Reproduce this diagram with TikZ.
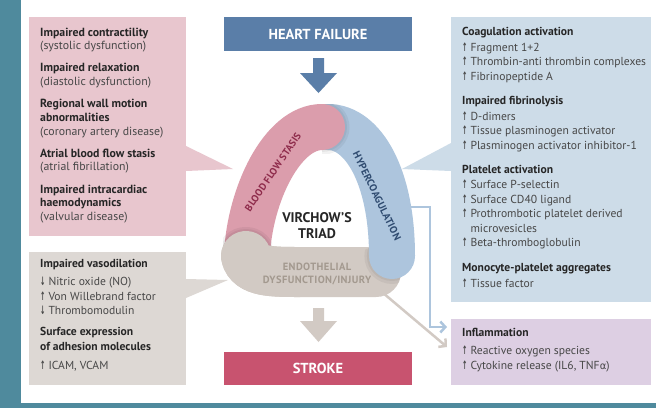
\documentclass[tikz,border=0pt]{standalone}
\usepackage{fontspec}
\usepackage{graphicx}
\setmainfont{PT Sans}
\newfontfamily\symf{DejaVu Sans}
\usetikzlibrary{arrows.meta}
\definecolor{tealbg}{HTML}{4F8A9D}
\definecolor{pinkbox}{HTML}{E8C6CE}
\definecolor{greybox}{HTML}{DDD8D4}
\definecolor{bluebox}{HTML}{CDDCE8}
\definecolor{purplebox}{HTML}{DDCFE3}
\definecolor{hfblue}{HTML}{5A7EA8}
\definecolor{strokered}{HTML}{C8536F}
\definecolor{pinkarm}{HTML}{DB9DAC}
\definecolor{bluearm}{HTML}{ADC5DD}
\definecolor{greyarm}{HTML}{D2CAC4}
\definecolor{pinktxt}{HTML}{8E2B4B}
\definecolor{bluetxt}{HTML}{2F4B70}
\definecolor{greytxt}{HTML}{A3998F}
\definecolor{headc}{HTML}{262626}
\definecolor{itemc}{HTML}{474747}
\newcommand\uarr{\scalebox{0.55}[1]{\symf\bfseries ↑}\hspace{3pt}}
\newcommand\darr{\scalebox{0.55}[1]{\symf\bfseries ↓}\hspace{3pt}}
\newcommand\ind{\hphantom{\uarr}}
\newcommand\hd[1]{\textbf{\color{headc}#1}}
\newcommand\galpha{{\symf\fontsize{10}{10}\selectfont α}}
\begin{document}
\begin{tikzpicture}[x=1pt,y=-1pt,
  panel/.style={draw=none, inner sep=0pt},
  txt/.style={anchor=north west, inner sep=0pt, align=left, text=itemc, font=\fontsize{11.6}{14.5}\selectfont},
  arm/.style={line width=46pt, line cap=round},
  shade1/.style={line cap=round, black, opacity=0.05},
  conn/.style={line width=2.5pt, -{Straight Barb[length=5pt,width=11pt]}},
  endbox/.style={inner sep=0pt, minimum width=188pt, text=white, font=\bfseries\fontsize{14.5}{16}\selectfont}]
\useasboundingbox (0,0) rectangle (656,408);
\fill[tealbg] (0,0) rectangle (656,408);
\fill[white] (21,0) rectangle (656,403);

% side panels
\node[panel, fill=pinkbox, minimum width=157pt, minimum height=219pt] (pbox) at (107.5,126.5) {};
\node[panel, fill=greybox, minimum width=157pt, minimum height=133pt] (gbox) at (107.5,318.5) {};
\node[panel, fill=bluebox, minimum width=200pt, minimum height=285pt] (bbox) at (551,159.5) {};
\node[panel, fill=purplebox, minimum width=200pt, minimum height=66pt] (infl) at (551,352) {};

% callout wedges
\fill[pinkbox] (186,146) -- (233,169) -- (186,171) -- cycle;
\fill[greybox] (186,279) -- (228,280) -- (186,298) -- cycle;
\fill[bluebox] (451,143) -- (402,169) -- (451,171) -- cycle;

% end boxes
\node[endbox, fill=hfblue, minimum height=34pt] (hf) at (318,34) {HEART FAILURE};
\node[endbox, fill=strokered, minimum height=33pt] (st) at (318,368.5) {STROKE};

% block arrows
\fill[hfblue] (313,58) -- (324,58) -- (324,73) -- (337,73) -- (318.5,93) -- (300,73) -- (313,73) -- cycle;
\fill[greyarm] (313,308) -- (324,308) -- (324,321) -- (337,321) -- (318.5,342) -- (300,321) -- (313,321) -- cycle;

% connectors
\coordinate (c1s) at (400,207);
\coordinate (c1b) at (430,207);
\coordinate (c1c) at (430,327);
\coordinate (c1e) at (447,327);
\coordinate (c2s) at (376,287);
\coordinate (c2e) at (447,347);
\draw[conn, bluearm] (c1s) -- (c1b) -- (c1c) -- (c1e);
\draw[conn, greyarm] (c2s) -- (c2e);

% triad arms
\draw[arm, greyarm, line width=50pt] (246,256) .. controls (250,272) and (272,272) .. (300,272) -- (376,272);
\begin{scope}
  \clip (376,272) circle (25pt);
  \draw[shade1, line width=55pt] (391.9,256) -- (392,256);
  \draw[shade1, line width=50pt] (391.9,256) -- (392,256);
\end{scope}
\draw[arm, bluearm] (328,127) .. controls (363,127) and (392,176) .. (392,256);
\begin{scope}
  \clip (322,104) rectangle (362,153);
  \draw[shade1, line width=55pt] (321.9,127) -- (322,127);
  \draw[shade1, line width=50pt] (321.9,127) -- (322,127);
\end{scope}
\draw[arm, pinkarm] (247,254) .. controls (250,195) and (282,127) .. (322,127);
\begin{scope}
  \clip (223,218) rectangle (272,256);
  \draw[shade1, line width=59pt] (245.9,256) -- (246,256);
  \draw[shade1, line width=54pt] (245.9,256) -- (246,256);
\end{scope}
\draw[arm, greyarm, line width=50pt] (246,256) .. controls (250,272) and (272,272) .. (300,272);

% arm labels
\node[rotate=56, inner sep=0pt, text=pinktxt, font=\bfseries\fontsize{10}{10}\selectfont\addfontfeature{LetterSpace=2}] (lbs) at (273,172) {BLOOD FLOW STASIS};
\node[rotate=-64, inner sep=0pt, text=bluetxt, font=\bfseries\fontsize{10.3}{10}\selectfont\addfontfeature{LetterSpace=2}] (lhc) at (377,196) {HYPERCOAGULATION};
\node[align=center, inner sep=0pt, text=greytxt, font=\bfseries\fontsize{10.5}{13}\selectfont\addfontfeature{LetterSpace=4}] (led) at (317,273.5) {ENDOTHELIAL\\DYSFUNCTION/INJURY};
\node[align=center, inner sep=0pt, text=headc, font=\bfseries\fontsize{14}{15.5}\selectfont] (vt) at (317,225.5) {VIRCHOW'S\\TRIAD};

% panel texts
\node[txt, font=\fontsize{11.8}{13.6}\selectfont] (tp) at (40,27.5) {%
\hd{Impaired contractility}\\
(systolic dysfunction)\\[8.7pt]
\hd{Impaired relaxation}\\
(diastolic dysfunction)\\[8.7pt]
\hd{Regional wall motion}\\
\hd{abnormalities}\\
(coronary artery disease)\\[8.7pt]
\hd{Atrial blood flow stasis}\\
(atrial fibrillation)\\[8.7pt]
\hd{Impaired intracardiac}\\
\hd{haemodynamics}\\
(valvular disease)};

\node[txt] (tg) at (40,259.5) {%
\hd{Impaired vasodilation}\\[3.5pt]
\darr Nitric oxide (NO)\\
\uarr Von Willebrand factor\\
\darr Thrombomodulin\\[6.5pt]
\hd{Surface expression}\\
\hd{of adhesion molecules}\\[4.5pt]
\uarr ICAM, VCAM};

\node[txt] (tb) at (462,27.5) {%
\hd{Coagulation activation}\\[1pt]
\uarr Fragment 1+2\\
\uarr Thrombin-anti thrombin complexes\\
\uarr Fibrinopeptide A\\[9.5pt]
\hd{Impaired fibrinolysis}\\[1.5pt]
\uarr D-dimers\\
\uarr Tissue plasminogen activator\\
\uarr Plasminogen activator inhibitor-1\\[9.5pt]
\hd{Platelet activation}\\[1pt]
\uarr Surface P-selectin\\
\uarr Surface CD40 ligand\\
\uarr Prothrombotic platelet derived\\
\ind microvesicles\\
\uarr Beta-thromboglobulin\\[10pt]
\hd{Monocyte-platelet aggregates}\\[1.5pt]
\uarr Tissue factor};

\node[txt] (ti) at (462,328.5) {%
\hd{Inflammation}\\[3.5pt]
\uarr Reactive oxygen species\\
\uarr Cytokine release (IL6, TNF\galpha)};
\end{tikzpicture}
\end{document}
